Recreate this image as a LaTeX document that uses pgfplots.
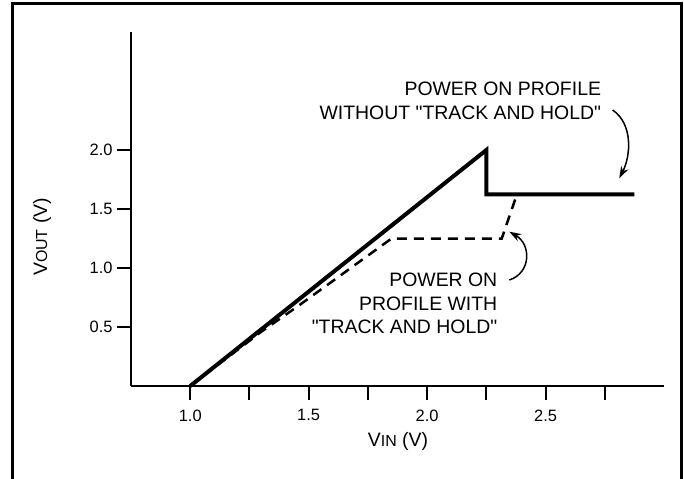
\documentclass[border=0pt]{standalone}
\usepackage{fontspec}
\setmainfont{Liberation Sans}[Ligatures=TeXOff]
\usepackage{pgfplots}
\pgfplotsset{compat=1.18}
\usetikzlibrary{arrows.meta}
\newcommand{\tl}{\fontsize{16.5}{17}\selectfont}
\newcommand{\bigf}{\fontsize{19.5}{24}\selectfont}
\newcommand{\smallf}{\fontsize{16}{17}\selectfont}
\begin{document}
\begin{tikzpicture}[x=1bp,y=1bp]
\useasboundingbox (0,0) rectangle (684,-479);
\draw[line width=3bp] (12.5,-485) -- (12.5,-4) -- (681.5,-4) -- (681.5,-485);
\begin{axis}[
 at={(131bp,-386bp)}, anchor=south west,
 scale only axis, width=533bp, height=354bp,
 xmin=0.75, xmax=3.0, ymin=0, ymax=3.0,
 axis x line*=bottom, axis y line*=left,
 axis line style={line width=2bp,-},
 xtick={1,1.25,1.5,1.75,2,2.25,2.5,2.75},
 xticklabels={{\tl 1.0},,{\tl 1.5},,{\tl 2.0},,{\tl 2.5},},
 ytick={0.5,1,1.5,2}, yticklabels={{\tl 0.5},{\tl 1.0},{\tl 1.5},{\tl 2.0}},
 tick align=outside, major tick length=14bp,
 tick style={line width=2bp,black},
 xticklabel style={yshift=-6bp},
 yticklabel style={xshift=-1bp},
 clip=false,
]
\addplot[black, line width=4bp, line join=miter, mark=none] coordinates {
 (1.0,0) (2.25,2.0) (2.25,1.625) (2.875,1.625)};
\addplot[black, line width=2.5bp, dash pattern=on 10bp off 7bp, mark=none] coordinates {
 (1.0,0) (1.3,0.46) (1.45,0.67) (1.85,1.25) (2.315,1.25) (2.375,1.60)};
\node[anchor=base east, inner sep=0pt] at (axis cs:2.735,2.46) {\bigf POWER ON PROFILE};
\node[anchor=base east, inner sep=0pt] at (axis cs:2.735,2.258) {\bigf WITHOUT "TRACK AND HOLD"};
\node[anchor=base east, inner sep=0pt] at (axis cs:2.297,0.841) {\bigf POWER ON};
\node[anchor=base east, inner sep=0pt] at (axis cs:2.297,0.638) {\bigf PROFILE WITH};
\node[anchor=base east, inner sep=0pt] at (axis cs:2.297,0.447) {\bigf "TRACK AND HOLD"};
\draw[line width=1.5bp, -{Stealth[length=12bp,width=8bp]}] (axis cs:2.783,2.339) .. controls (axis cs:2.87,2.22) and (axis cs:2.86,1.95) .. (axis cs:2.811,1.76);
\draw[line width=1.5bp, -{Stealth[length=12bp,width=8bp]}] (axis cs:2.347,0.898) .. controls (axis cs:2.44,0.96) and (axis cs:2.44,1.2) .. (axis cs:2.347,1.308);
\end{axis}
\node[anchor=base, inner sep=0pt] at (398,-446) {\bigf V{\smallf IN} (V)};
\node[anchor=base, rotate=90, inner sep=0pt] at (47,-237) {\bigf V{\smallf OUT} (V)};
\end{tikzpicture}
\end{document}
